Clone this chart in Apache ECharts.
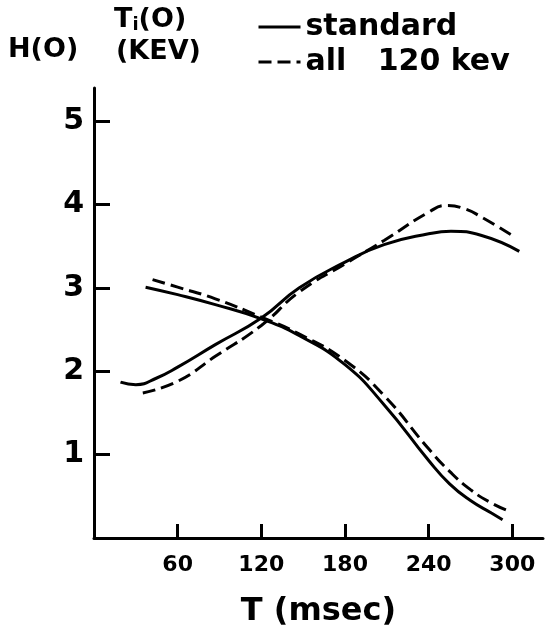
<!DOCTYPE html>
<html lang="en">
<head>
    <meta charset="UTF-8">
    <script src="https://cdn.jsdelivr.net/npm/echarts@6/dist/echarts.min.js"></script>
    <title>H(0), Ti(0) vs T</title>
    <style>
        html, body { margin: 0; padding: 0; background: #fff; }
        #main { width: 552px; height: 633px; }
    </style>
</head>
<body>
<div id="main"></div>
<script>
    // x ticks / y ticks
    var xTicks = [60, 120, 180, 240, 300];
    var yTicks = [1, 2, 3, 4, 5];

    // Ti(0), standard (solid, rising)
    var tiStdT = [19, 30, 45, 60, 87, 120, 147, 180, 208, 240, 256, 278, 305];
    var tiStdV = [1.87, 1.84, 1.92, 2.05, 2.32, 2.64, 3.0, 3.31, 3.52, 3.65, 3.68, 3.63, 3.44];
    // Ti(0), all 120 kev (dashed, rising)
    var ti120T = [35, 60, 87, 120, 147, 180, 208, 240, 253, 266, 278, 302];
    var ti120V = [1.74, 1.88, 2.18, 2.55, 2.95, 3.29, 3.57, 3.91, 3.99, 3.95, 3.85, 3.61];
    // H(0), standard (solid, falling)
    var hStdT = [37, 60, 87, 120, 147, 180, 208, 240, 255, 270, 285, 293];
    var hStdV = [3.01, 2.92, 2.80, 2.63, 2.43, 2.08, 1.60, 0.93, 0.65, 0.45, 0.30, 0.22];
    // H(0), all 120 kev (dashed, falling)
    var h120T = [42, 60, 87, 120, 147, 180, 208, 240, 255, 270, 285, 298];
    var h120V = [3.10, 3.01, 2.87, 2.65, 2.45, 2.13, 1.71, 1.07, 0.80, 0.58, 0.42, 0.32];

    function pairs(xs, ys) {
        return xs.map(function (x, i) { return [x, ys[i]]; });
    }

    var FONT = 'DejaVu Sans';
    var solid = { color: '#000', width: 3, type: 'solid' };
    var dashed = { color: '#000', width: 3, type: [13, 6] };

    var myChart = echarts.init(document.getElementById('main'));
    var option = {
        backgroundColor: '#fff',
        animation: false,
        grid: { left: 94, right: 9, top: 88, bottom: 91 },
        legend: {
            orient: 'vertical',
            left: 252,
            top: 7,
            itemWidth: 42,
            itemHeight: 14,
            itemGap: 5,
            itemStyle: { opacity: 0 },
            lineStyle: { width: 3 },
            data: ['standard', 'all   120 kev'],
            textStyle: { color: '#000', fontFamily: FONT, fontWeight: 'bold', fontSize: 30 }
        },
        xAxis: {
            type: 'value',
            min: 0,
            max: 322,
            interval: 60,
            splitLine: { show: false },
            axisLine: { lineStyle: { color: '#000', width: 3 } },
            axisTick: { inside: true, length: 14, customValues: xTicks, lineStyle: { color: '#000', width: 3 } },
            axisLabel: { customValues: xTicks, color: '#000', fontFamily: FONT, fontWeight: 'bold', fontSize: 22, margin: 16 },
            name: 'T (msec)',
            nameLocation: 'middle',
            nameGap: 58,
            nameTextStyle: { color: '#000', fontFamily: FONT, fontWeight: 'bold', fontSize: 32 }
        },
        yAxis: {
            type: 'value',
            min: 0,
            max: 5.4,
            interval: 1,
            splitLine: { show: false },
            axisLine: { lineStyle: { color: '#000', width: 3 } },
            axisTick: { inside: true, length: 16, customValues: yTicks, lineStyle: { color: '#000', width: 3 } },
            axisLabel: { customValues: yTicks, color: '#000', fontFamily: FONT, fontWeight: 'bold', fontSize: 30, margin: 10 }
        },
        graphic: [
            { type: 'text', left: 8, top: 36, style: { text: 'H(O)', fill: '#000', font: 'bold 27px "DejaVu Sans"' } },
            {
                type: 'text', left: 114, top: 6,
                style: {
                    text: 'T{s|i}(O)', fill: '#000', font: 'bold 27px "DejaVu Sans"',
                    rich: { s: { fontSize: 18, fontWeight: 'bold', fontFamily: FONT, verticalAlign: 'bottom', padding: [12, 0, 0, 0] } }
                }
            },
            { type: 'text', left: 116, top: 38, style: { text: '(KEV)', fill: '#000', font: 'bold 27px "DejaVu Sans"' } }
        ],
        series: [
            { name: 'standard', type: 'line', smooth: true, symbol: 'none', lineStyle: solid, itemStyle: { color: '#000' }, data: pairs(tiStdT, tiStdV) },
            { name: 'all   120 kev', type: 'line', smooth: true, symbol: 'none', lineStyle: dashed, itemStyle: { color: '#000' }, data: pairs(ti120T, ti120V) },
            { name: 'standard', type: 'line', smooth: true, symbol: 'none', lineStyle: solid, itemStyle: { color: '#000' }, data: pairs(hStdT, hStdV) },
            { name: 'all   120 kev', type: 'line', smooth: true, symbol: 'none', lineStyle: dashed, itemStyle: { color: '#000' }, data: pairs(h120T, h120V) }
        ]
    };
    myChart.setOption(option);
</script>
</body>
</html>
